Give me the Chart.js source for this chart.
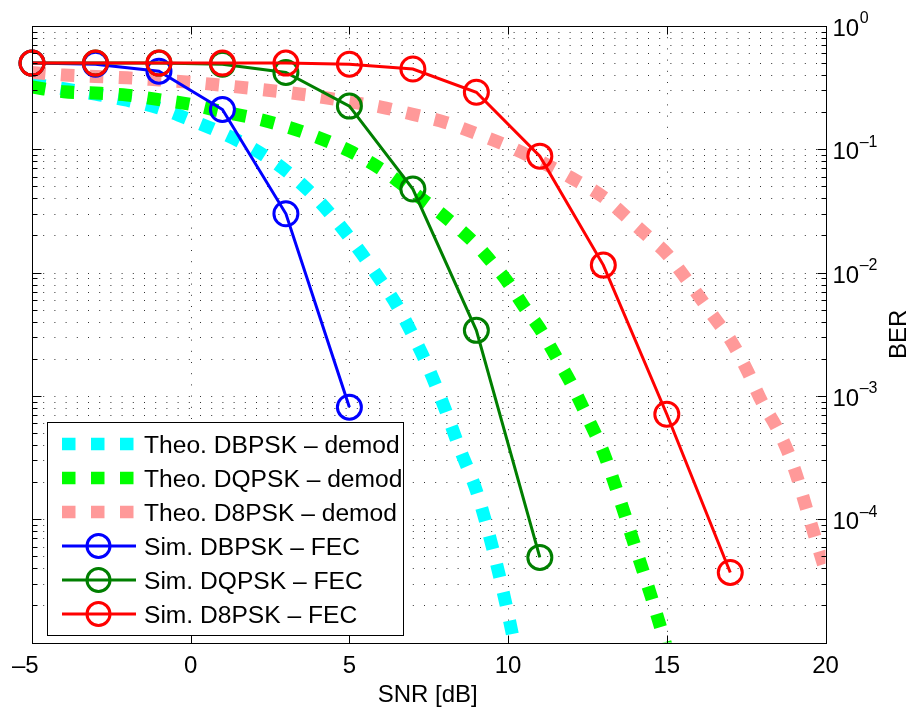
<!DOCTYPE html>
<html>
<head>
<meta charset="utf-8">
<script src="https://cdn.jsdelivr.net/npm/chart.js@4.4.0/dist/chart.umd.min.js"></script>
<style>
  html, body { margin: 0; padding: 0; background: #ffffff; }
  #wrap { width: 913px; height: 711px; position: relative; }
</style>
</head>
<body>
<div id="wrap"><canvas id="ber"></canvas></div>
<script>
// ---- Simulated BER with FEC (markers every 2 dB) ----
const simSnrDBPSK = [-5, -3, -1, 1, 3, 5];
const simBerDBPSK = [0.5, 0.49, 0.43, 0.21, 0.030, 8.1e-4];

const simSnrDQPSK = [-5, -3, -1, 1, 3, 5, 7, 9, 11];
const simBerDQPSK = [0.5, 0.5, 0.5, 0.49, 0.42, 0.224, 0.0476, 3.4e-3, 4.9e-5];

const simSnrD8PSK = [-5, -3, -1, 1, 3, 5, 7, 9, 11, 13, 15, 17];
const simBerD8PSK = [0.5, 0.5, 0.5, 0.5, 0.5, 0.49, 0.448, 0.29, 0.088, 0.0115, 7.1e-4, 3.7e-5];

// ---- Theoretical BER after demodulation ----
const theoSnrDBPSK = [-5, -4, -3, -2, -1, 0, 1, 2, 3, 4, 5, 6, 6.5, 7, 7.5, 8, 8.5, 9, 9.5, 10, 10.5];
const theoBerDBPSK = [0.34, 0.31, 0.28, 0.25, 0.216, 0.173, 0.135, 0.100, 0.067, 0.039, 0.0193, 0.0085,
                      0.0054, 0.0031, 0.00166, 8.0e-4, 3.6e-4, 1.7e-4, 6.0e-5, 1.7e-5, 4.0e-6];

const theoSnrDQPSK = [-5, -4, -3, -2, -1, 0, 1, 2, 3, 4, 5, 6, 7, 8, 9, 9.5, 10, 10.5, 11, 11.5, 12, 12.5,
                      13, 13.5, 14, 14.5, 15];
const theoBerDQPSK = [0.32, 0.293, 0.286, 0.275, 0.253, 0.231, 0.202, 0.179, 0.153, 0.125, 0.097, 0.069,
                      0.0447, 0.0285, 0.0168, 0.0120, 0.0083, 0.0053, 0.0035, 0.0021, 0.00124, 6.7e-4,
                      3.5e-4, 1.5e-4, 6.0e-5, 2.4e-5, 9.0e-6];

const theoSnrD8PSK = [-5, -4, -3, -2, -1, 0, 1, 2, 3, 4, 5, 6, 7, 8, 9, 10, 11, 12, 13, 14, 14.5, 15, 15.5,
                      16, 16.5, 17, 17.5, 18, 18.5, 19, 19.5, 20];
const theoBerD8PSK = [0.42, 0.40, 0.39, 0.38, 0.365, 0.35, 0.33, 0.31, 0.29, 0.268, 0.243, 0.22, 0.192,
                      0.166, 0.134, 0.106, 0.080, 0.0585, 0.041, 0.0244, 0.0187, 0.0142, 0.0097,
                      0.0065, 0.0043, 0.00286, 0.00167, 8.9e-4, 5.3e-4, 2.65e-4, 1.0e-4, 3.8e-5];

// ---- Axis ticks ----
const xTickValues = [-5, 0, 5, 10, 15, 20];
const xTickLabels = ['\u20135', '0', '5', '10', '15', '20'];
const yTickValues = [1, 0.1, 0.01, 0.001, 0.0001];
const yTickExponents = ['0', '\u20131', '\u20132', '\u20133', '\u20134'];

const FONT = '"Liberation Sans", Arial, Helvetica, sans-serif';

function toPoints(xs, ys) {
  return ys.map((y, i) => ({ x: xs[i], y: y }));
}

function theoDataset(label, xs, ys, color, order) {
  return {
    label: label,
    data: toPoints(xs, ys),
    borderColor: color,
    backgroundColor: color,
    borderWidth: 13,
    borderDash: [13.5, 15.5],
    borderCapStyle: 'butt',
    cubicInterpolationMode: 'monotone',
    pointRadius: 0,
    fill: false,
    clip: 0,
    order: order,
    kind: 'theo'
  };
}

function simDataset(label, xs, ys, color, order) {
  return {
    label: label,
    data: toPoints(xs, ys),
    borderColor: color,
    backgroundColor: 'rgba(0,0,0,0)',
    borderWidth: 3,
    tension: 0,
    pointStyle: 'circle',
    pointRadius: 12,
    pointBorderWidth: 3,
    pointBorderColor: color,
    pointBackgroundColor: 'rgba(0,0,0,0)',
    fill: false,
    clip: false,
    order: order,
    kind: 'sim'
  };
}

// MATLAB-style frame: dotted grid, boxed axes with inward ticks, right-hand log axis and legend
const matlabFrame = {
  id: 'matlabFrame',
  beforeDatasetsDraw(chart) {
    const { ctx, chartArea: a, scales } = chart;
    const xs = scales.x, ys = scales.y;
    ctx.save();
    ctx.strokeStyle = 'rgba(0,0,0,0.8)';
    ctx.lineWidth = 1;
    ctx.setLineDash([1, 10.2]);
    // horizontal grid on every decade and sub-decade value
    for (let k = -5; k < 0; k++) {
      for (let m = 1; m <= 9; m++) {
        const v = m * Math.pow(10, k);
        if (k === -5 && m === 1) continue;
        const py = Math.round(ys.getPixelForValue(v)) + 0.5;
        ctx.beginPath();
        ctx.moveTo(a.left, py);
        ctx.lineTo(a.right, py);
        ctx.stroke();
      }
    }
    // vertical grid on major SNR ticks
    xTickValues.forEach(v => {
      if (v === xs.min || v === xs.max) return;
      const px = Math.round(xs.getPixelForValue(v)) + 0.5;
      ctx.beginPath();
      ctx.moveTo(px, a.top);
      ctx.lineTo(px, a.bottom);
      ctx.stroke();
    });
    ctx.restore();
  },
  afterDraw(chart) {
    const { ctx, chartArea: a, scales } = chart;
    const xs = scales.x, ys = scales.y;
    ctx.save();
    ctx.setLineDash([]);
    ctx.strokeStyle = '#000';
    ctx.lineWidth = 1;

    // box
    const L = Math.round(a.left) + 0.5, R = Math.round(a.right) + 0.5;
    const T = Math.round(a.top) + 0.5, B = Math.round(a.bottom) + 0.5;
    ctx.strokeRect(L, T, R - L, B - T);

    // y ticks (both sides, pointing inward)
    ctx.beginPath();
    for (let k = -5; k <= 0; k++) {
      for (let m = 1; m <= 9; m++) {
        const v = m * Math.pow(10, k);
        if (v > 1.0000001) break;
        const len = m === 1 ? 9 : 5;
        const py = Math.round(ys.getPixelForValue(v)) + 0.5;
        ctx.moveTo(L, py); ctx.lineTo(L + len, py);
        ctx.moveTo(R, py); ctx.lineTo(R - len, py);
      }
    }
    // x ticks (top and bottom)
    xTickValues.forEach(v => {
      const px = Math.round(xs.getPixelForValue(v)) + 0.5;
      ctx.moveTo(px, B); ctx.lineTo(px, B - 8);
      ctx.moveTo(px, T); ctx.lineTo(px, T + 8);
    });
    ctx.stroke();

    ctx.fillStyle = '#000';
    // x tick labels (digits centred on the tick, sign hanging left)
    ctx.font = '24px ' + FONT;
    ctx.textBaseline = 'alphabetic';
    ctx.textAlign = 'left';
    xTickValues.forEach((v, i) => {
      const lab = xTickLabels[i];
      const digits = lab.replace('\u2013', '');
      const px = xs.getPixelForValue(v);
      const dw = ctx.measureText(digits).width;
      const fw = ctx.measureText(lab).width;
      ctx.fillText(lab, px + dw / 2 - fw, 673);
    });

    // y tick labels on the right: 10 with superscript exponent
    yTickValues.forEach((v, i) => {
      const py = ys.getPixelForValue(v);
      ctx.font = '24px ' + FONT;
      const bx = R + 6;
      ctx.fillText('10', bx, py + 10);
      const w = ctx.measureText('10').width;
      ctx.font = '16px ' + FONT;
      ctx.fillText(yTickExponents[i], bx + w + 0.5, py + 10 - 12.6);
    });

    // axis titles
    ctx.font = '24px ' + FONT;
    ctx.textAlign = 'center';
    ctx.fillText('SNR [dB]', (a.left + a.right) / 2 - 1, 702);
    ctx.save();
    ctx.translate(906, (a.top + a.bottom) / 2);
    ctx.rotate(-Math.PI / 2);
    ctx.fillText('BER', 0, 0);
    ctx.restore();

    // legend
    const lx = 47.5, ly = 422.5, lw = 356, lh = 213;
    ctx.fillStyle = '#fff';
    ctx.fillRect(lx, ly, lw, lh);
    ctx.strokeStyle = '#000';
    ctx.lineWidth = 1;
    ctx.strokeRect(lx, ly, lw, lh);
    ctx.font = '24.6px ' + FONT;
    ctx.textAlign = 'left';
    chart.data.datasets.forEach((ds, i) => {
      const cy = 444 + i * 34;
      ctx.save();
      ctx.strokeStyle = ds.borderColor;
      if (ds.kind === 'theo') {
        ctx.lineWidth = 12.5;
        ctx.lineCap = 'butt';
        ctx.setLineDash([13.5, 15.5]);
        ctx.beginPath();
        ctx.moveTo(62, cy); ctx.lineTo(135, cy);
        ctx.stroke();
      } else {
        ctx.lineWidth = 3;
        ctx.setLineDash([]);
        ctx.beginPath();
        ctx.moveTo(62, cy); ctx.lineTo(136, cy);
        ctx.stroke();
        ctx.beginPath();
        ctx.arc(98.5, cy, 11.5, 0, Math.PI * 2);
        ctx.stroke();
      }
      ctx.restore();
      ctx.fillStyle = '#000';
      ctx.fillText(ds.label, 144, cy + 8.5);
    });
    ctx.restore();
  }
};

new Chart(document.getElementById('ber'), {
  type: 'line',
  data: {
    datasets: [
      theoDataset('Theo. DBPSK \u2013 demod', theoSnrDBPSK, theoBerDBPSK, '#00ffff', 6),
      theoDataset('Theo. DQPSK \u2013 demod', theoSnrDQPSK, theoBerDQPSK, '#00ff00', 5),
      theoDataset('Theo. D8PSK \u2013 demod', theoSnrD8PSK, theoBerD8PSK, '#ff9999', 4),
      simDataset('Sim. DBPSK \u2013 FEC', simSnrDBPSK, simBerDBPSK, '#0000ff', 3),
      simDataset('Sim. DQPSK \u2013 FEC', simSnrDQPSK, simBerDQPSK, '#007f00', 2),
      simDataset('Sim. D8PSK \u2013 FEC', simSnrD8PSK, simBerD8PSK, '#ff0000', 1)
    ]
  },
  options: {
    responsive: true,
    maintainAspectRatio: false,
    animation: false,
    events: [],
    layout: { padding: { left: 32, right: 87.5, top: 26, bottom: 68.5 } },
    plugins: { legend: { display: false }, tooltip: { enabled: false }, title: { display: false } },
    scales: {
      x: { type: 'linear', min: -5, max: 20, display: false },
      y: { type: 'logarithmic', min: 1e-5, max: 1, display: false, position: 'right' }
    }
  },
  plugins: [matlabFrame]
});
</script>
</body>
</html>
